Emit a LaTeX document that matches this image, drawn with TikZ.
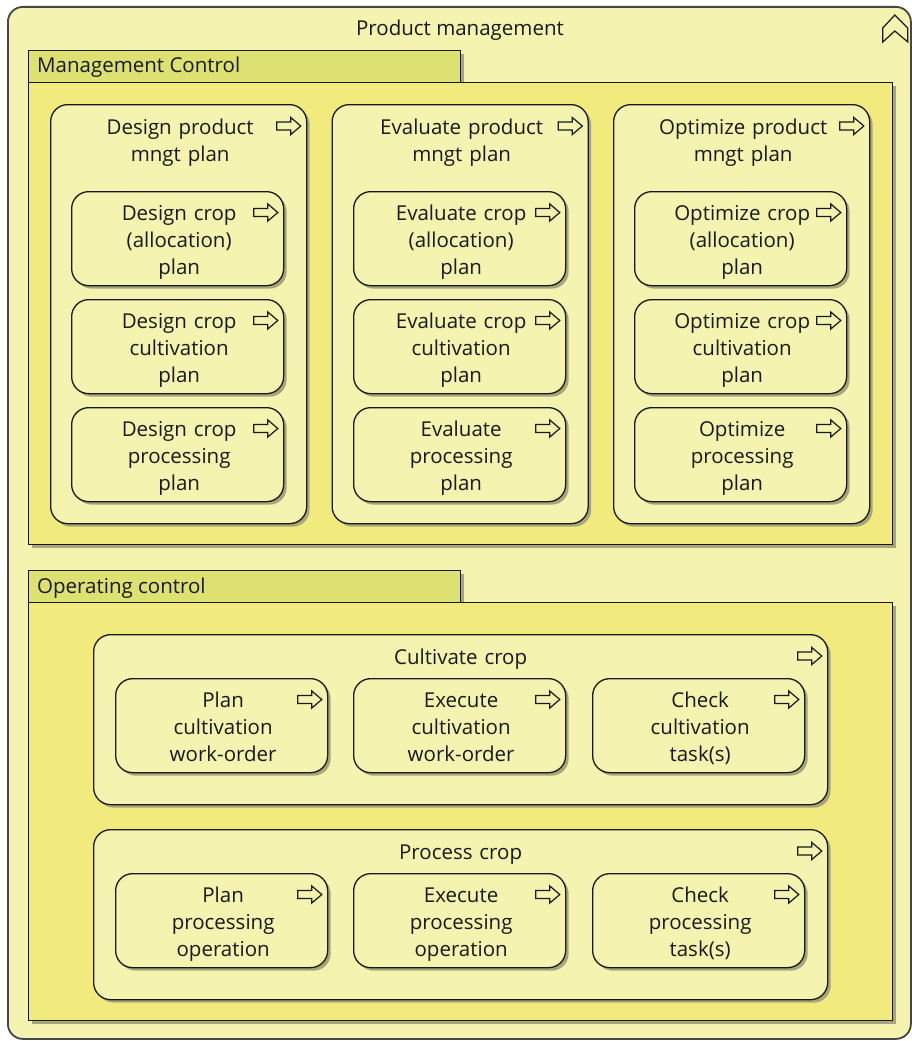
\documentclass[tikz,border=0pt]{standalone}
\usepackage{fontspec}
\setmainfont{Open Sans}
\usetikzlibrary{calc,shadows}

\definecolor{paleyel}{RGB}{245,243,176}
\definecolor{bodyyel}{RGB}{241,235,125}
\definecolor{tabyel}{RGB}{221,225,114}
\definecolor{shadowc}{RGB}{168,166,120}
\definecolor{edge}{RGB}{25,25,25}
\definecolor{outeredge}{RGB}{70,70,70}

% process symbol in the top-right corner of a box
\tikzset{procicon/.pic={
  \draw[icon] (-12,-4) -- (2,-4) -- (2,-8.5) -- (12,0) -- (2,8.5) -- (2,4) -- (-12,4) -- cycle;}}

% name, left, top, title (two lines)
\newcommand\planbox[4]{%
  \node[grp, minimum width=256, minimum height=419, anchor=north west] (#1) at (#2,#3) {};
  \node[boxtext, anchor=base] (#1-t) at ($(#1.north)+(1.5,30)$) {#4};
  \pic at ($(#1.north east)+(-18.5,22)$) {procicon};}

% name, left, top, title (one line)
\newcommand\stagebox[4]{%
  \node[grp, minimum width=734, minimum height=170, anchor=north west] (#1) at (#2,#3) {};
  \node[boxtext, anchor=base] (#1-t) at ($(#1.north)+(0,30)$) {#4};
  \pic at ($(#1.north east)+(-18.5,22)$) {procicon};}

% name, left, top, label
\newcommand\taskbox[4]{%
  \node[task, anchor=north west] (#1) at (#2,#3) {};
  \node[boxtext, anchor=base] (#1-t) at ($(#1.north)+(1.5,29)$) {#4};
  \pic at ($(#1.north east)+(-18.5,21.5)$) {procicon};}

\begin{document}
\begin{tikzpicture}[x=1pt,y=-1pt,
  font=\fontsize{20.5}{27}\selectfont,
  every node/.style={text=edge},
  dshadow/.style={drop shadow={shadow xshift=3pt,shadow yshift=-3pt,fill=shadowc,opacity=1}},
  icon/.style={draw=edge, line width=1.2pt, fill=paleyel, line join=miter},
  outer/.style={rectangle, rounded corners=15pt, draw=outeredge, line width=1.8pt, fill=paleyel, inner sep=0pt},
  tab/.style={rectangle, draw=edge, line width=1.3pt, fill=tabyel, dshadow, inner sep=0pt},
  body/.style={rectangle, draw=edge, line width=1.3pt, fill=bodyyel, dshadow, inner sep=0pt},
  grp/.style={rectangle, rounded corners=17pt, draw=edge, line width=1.3pt, fill=paleyel, dshadow, inner sep=0pt},
  task/.style={grp, minimum width=212, minimum height=94},
  boxtext/.style={text width=200pt, align=center, inner sep=0pt},
  tabtext/.style={inner sep=0pt, anchor=base west}]

\useasboundingbox (0,0) rectangle (912,1041);

% outer group
\node[outer, minimum width=903, minimum height=1032, anchor=north west] (pm) at (7,6) {};
\node[inner sep=0pt, anchor=base] (pm-t) at (460,36) {Product management};
\draw[icon, shift={(pm.north east)}] (-29,36) -- (-29,22) -- (-17,9) -- (-4,22) -- (-4,36) -- (-17,25) -- cycle;

% management control
\node[tab, minimum width=432, minimum height=32, anchor=north west] (mctab) at (28,50) {};
\node[tabtext] (mctab-t) at (37,73) {Management Control};
\node[body, minimum width=864, minimum height=462, anchor=north west] (mc) at (28,82) {};

\planbox{design}{50}{104}{Design product\\mngt plan}
\planbox{evaluate}{331.5}{104}{Evaluate product\\mngt plan}
\planbox{optimize}{613}{104}{Optimize product\\mngt plan}

\taskbox{d1}{71}{191}{Design crop\\(allocation)\\plan}
\taskbox{d2}{71}{299}{Design crop\\cultivation\\plan}
\taskbox{d3}{71}{407}{Design crop\\processing\\plan}

\taskbox{e1}{353}{191}{Evaluate crop\\(allocation)\\plan}
\taskbox{e2}{353}{299}{Evaluate crop\\cultivation\\plan}
\taskbox{e3}{353}{407}{Evaluate\\processing\\plan}

\taskbox{o1}{634}{191}{Optimize crop\\(allocation)\\plan}
\taskbox{o2}{634}{299}{Optimize crop\\cultivation\\plan}
\taskbox{o3}{634}{407}{Optimize\\processing\\plan}

% operating control
\node[tab, minimum width=432, minimum height=32, anchor=north west] (octab) at (28,570) {};
\node[tabtext] (octab-t) at (37,593) {Operating control};
\node[body, minimum width=864, minimum height=418, anchor=north west] (oc) at (28,602) {};

\stagebox{cultivate}{93}{634}{Cultivate crop}
\taskbox{c1}{115}{678}{Plan\\cultivation\\work-order}
\taskbox{c2}{353}{678}{Execute\\cultivation\\work-order}
\taskbox{c3}{592}{678}{Check\\cultivation\\task(s)}

\stagebox{process}{93}{829}{Process crop}
\taskbox{p1}{115}{873}{Plan\\processing\\operation}
\taskbox{p2}{353}{873}{Execute\\processing\\operation}
\taskbox{p3}{592}{873}{Check\\processing\\task(s)}

\end{tikzpicture}
\end{document}
